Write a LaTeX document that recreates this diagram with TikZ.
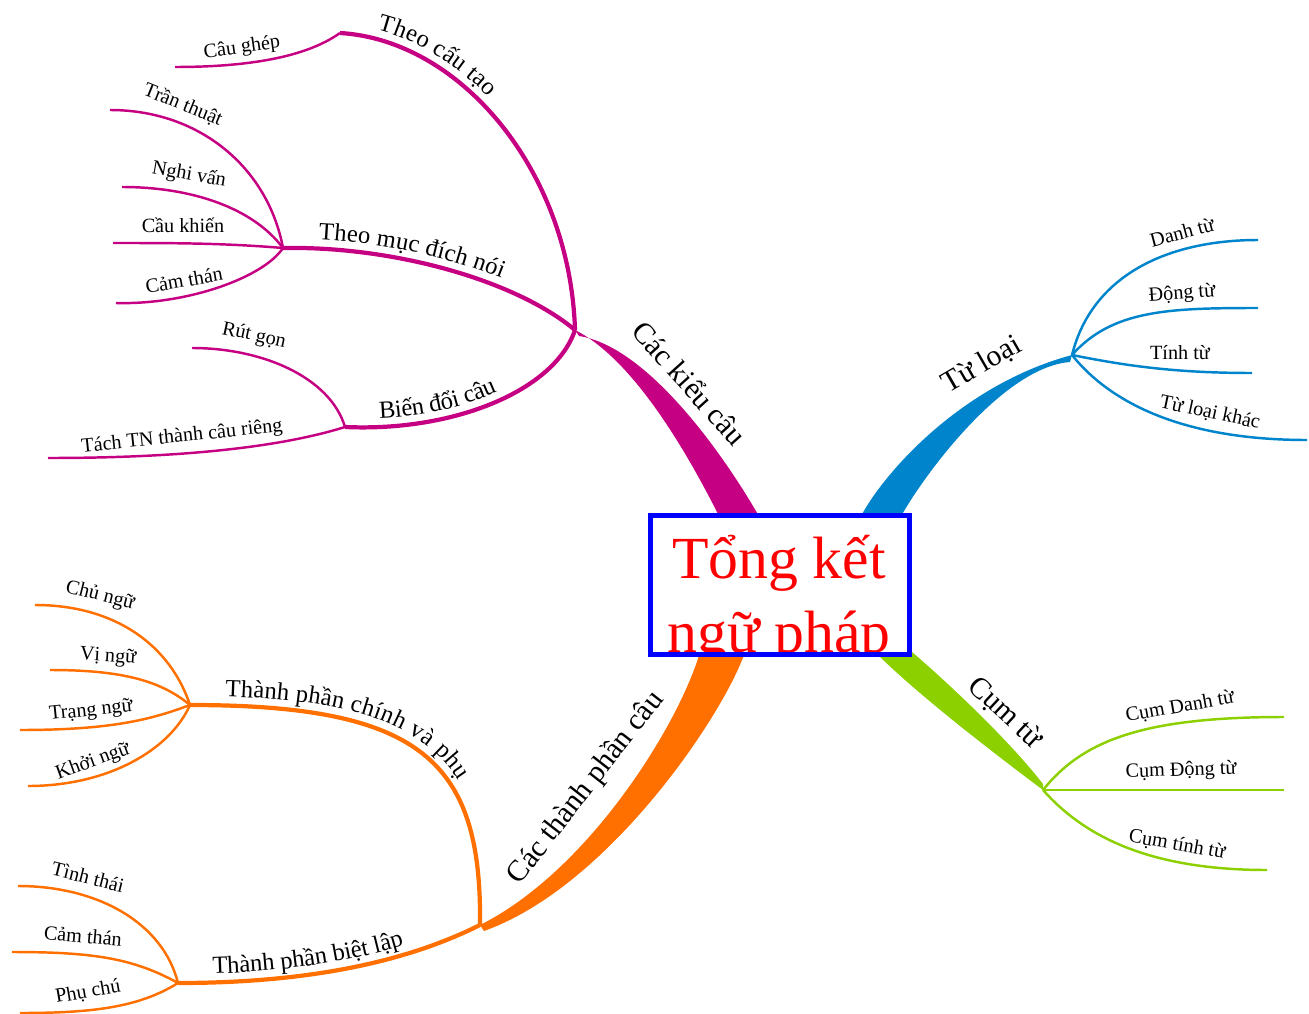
\documentclass[tikz,border=0pt]{standalone}
\usepackage{fontspec}
\setmainfont{Liberation Serif}
\usetikzlibrary{decorations.text}
\newcommand\brfont{\color{black}\fontsize{14}{16}\selectfont}

\begin{document}
\begin{tikzpicture}[x=0.02cm, y=-0.02cm,
  leaf/.style={font=\fontsize{11.5}{13}\selectfont, inner sep=0pt},
  stemlabel/.style={font=\fontsize{17}{20}\selectfont, inner sep=0pt},
  twig/.style={line width=1.4pt},
  limb/.style={line width=2.4pt},
  limblabel/.style={postaction={decorate, decoration={text along path,
      text={|\brfont|#1}, raise=5pt, text align={left, left indent=20pt}}}}]
\definecolor{kccol}{RGB}{198,0,130}
\definecolor{tlcol}{RGB}{0,132,204}
\definecolor{cmcol}{RGB}{140,208,0}
\definecolor{tpccol}{RGB}{255,112,0}

\useasboundingbox (0,0) rectangle (1309,1014);

% junctions
\coordinate (kc) at (575,330);
\coordinate (tl) at (1072,355);
\coordinate (cm) at (1043,790);
\coordinate (tpc) at (480,925);
\coordinate (cautao) at (340,33);
\coordinate (md) at (283,248);
\coordinate (bd) at (345,427);
\coordinate (cp) at (190,705);
\coordinate (bl) at (178,983);

% stems
\coordinate (kcA) at (720,518);
\coordinate (kcB) at (760,518);
\coordinate (kcT) at (579,336);
\coordinate (tlA) at (860,518);
\coordinate (tlB) at (900,518);
\coordinate (tlT) at (1070,362);
\coordinate (cmA) at (875,652);
\coordinate (cmB) at (912,652);
\coordinate (cmT) at (1043,784);
\coordinate (tpcA) at (700,652);
\coordinate (tpcB) at (745,652);
\coordinate (tpcT) at (484,931);
\fill[kccol] (kcA) .. controls +(-30,-60) and +(60,30) .. (kc) -- (kcT) .. controls +(66,10) and +(-40,-70) .. (kcB) -- cycle;
\fill[tlcol] (tlA) .. controls +(22,-43) and +(-112,30) .. (tl) -- (tlT) .. controls +(-66,5) and +(25,-45) .. (tlB) -- cycle;
\fill[cmcol] (cmA) .. controls +(40,40) and +(-60,-45) .. (cm) -- (cmT) .. controls +(-35,-45) and +(35,30) .. (cmB) -- cycle;
\fill[tpccol] (tpcA) .. controls +(-20,70) and +(110,-55) .. (tpc) -- (tpcT) .. controls +(126,-45) and +(-20,60) .. (tpcB) -- cycle;

\node[stemlabel, rotate=-48] (lkc) at (690,383) {Các kiểu câu};
\node[stemlabel, rotate=30] (ltl) at (982,365) {Từ loại};
\node[stemlabel, rotate=-43] (lcm) at (1005,713) {Cụm từ};
\node[stemlabel, rotate=52] (ltpc) at (586,788) {Các thành phần câu};

% Cac kieu cau
\draw[kccol, limb, limblabel={Theo cấu tạo}] (cautao) .. controls +(120,7) and +(-5,-160) .. (kc);
\draw[kccol, limb, limblabel={Theo mục đích nói}] (md) .. controls +(110,-2) and +(-60,-50) .. (kc);
\draw[kccol, limb, limblabel={Biến đổi câu}] (bd) .. controls +(110,5) and +(-20,60) .. (kc);

\coordinate (caughep) at (175,67);
\coordinate (tranthuat) at (110,110);
\coordinate (nghivan) at (122,187);
\coordinate (caukhien) at (113,243);
\coordinate (camthan) at (116,303);
\coordinate (rutgon) at (192,348);
\coordinate (tachtn) at (48,458);
\draw[kccol, twig] (cautao) .. controls +(-35,25) and +(70,0) .. (caughep);
\draw[kccol, twig] (md) .. controls +(-15,-80) and +(90,0) .. (tranthuat);
\draw[kccol, twig] (md) .. controls +(-30,-40) and +(70,0) .. (nghivan);
\draw[kccol, twig] (md) .. controls +(-60,-5) and +(60,0) .. (caukhien);
\draw[kccol, twig] (md) .. controls +(-20,30) and +(70,2) .. (camthan);
\draw[kccol, twig] (bd) .. controls +(-15,-50) and +(70,0) .. (rutgon);
\draw[kccol, twig] (bd) .. controls +(-80,25) and +(100,0) .. (tachtn);
\node[leaf, rotate=8] (lcaughep) at (242,48) {Câu ghép};
\node[leaf, rotate=-22] (ltranthuat) at (183,105) {Trần thuật};
\node[leaf, rotate=-10] (lnghivan) at (189,175) {Nghi vấn};
\node[leaf] (lcaukhien) at (183,225) {Cầu khiến};
\node[leaf, rotate=10] (lcamthan) at (184,280) {Cảm thán};
\node[leaf, rotate=-12] (lrutgon) at (254,336) {Rút gọn};
\node[leaf, rotate=6] (ltachtn) at (182,437) {Tách TN thành câu riêng};

% Tu loai
\coordinate (danhtu) at (1258,240);
\coordinate (dongtu) at (1258,308);
\coordinate (tinhtu) at (1252,373);
\coordinate (loaikhac) at (1307,440);
\draw[tlcol, twig] (tl) .. controls +(20,-80) and +(-90,0) .. (danhtu);
\draw[tlcol, twig] (tl) .. controls +(40,-45) and +(-90,0) .. (dongtu);
\draw[tlcol, twig] (tl) .. controls +(50,10) and +(-80,0) .. (tinhtu);
\draw[tlcol, twig] (tl) .. controls +(40,50) and +(-120,0) .. (loaikhac);
\node[leaf, rotate=15] (ldanhtu) at (1182,232) {Danh từ};
\node[leaf, rotate=4] (ldongtu) at (1182,294) {Động từ};
\node[leaf] (ltinhtu) at (1180,353) {Tính từ};
\node[leaf, rotate=-12] (lloaikhac) at (1210,413) {Từ loại khác};

% Cum tu
\coordinate (cumdanh) at (1284,717);
\coordinate (cumdong) at (1284,790);
\coordinate (cumtinh) at (1267,870);
\draw[cmcol, twig] (cm) .. controls +(40,-50) and +(-140,0) .. (cumdanh);
\draw[cmcol, twig] (cm) .. controls +(60,0) and +(-60,0) .. (cumdong);
\draw[cmcol, twig] (cm) .. controls +(40,45) and +(-120,0) .. (cumtinh);
\node[leaf, rotate=10] (lcumdanh) at (1180,707) {Cụm Danh từ};
\node[leaf, rotate=2] (lcumdong) at (1181,771) {Cụm Động từ};
\node[leaf, rotate=-10] (lcumtinh) at (1177,845) {Cụm tính từ};

% Cac thanh phan cau
\draw[tpccol, limb, limblabel={Thành phần chính và phụ}] (cp) .. controls +(230,0) and +(2,-165) .. (tpc);
\draw[tpccol, limb, limblabel={Thành phần biệt lập}] (bl) .. controls +(150,0) and +(-60,30) .. (tpc);

\coordinate (chungu) at (35,605);
\coordinate (vingu) at (50,670);
\coordinate (trangngu) at (20,730);
\coordinate (khoingu) at (28,786);
\coordinate (tinhthai) at (18,886);
\coordinate (camthanb) at (12,952);
\coordinate (phuchu) at (20,1013);
\draw[tpccol, twig] (cp) .. controls +(-20,-60) and +(80,0) .. (chungu);
\draw[tpccol, twig] (cp) .. controls +(-30,-25) and +(70,0) .. (vingu);
\draw[tpccol, twig] (cp) .. controls +(-40,15) and +(90,0) .. (trangngu);
\draw[tpccol, twig] (cp) .. controls +(-20,45) and +(80,0) .. (khoingu);
\draw[tpccol, twig] (bl) .. controls +(-15,-60) and +(80,0) .. (tinhthai);
\draw[tpccol, twig] (bl) .. controls +(-45,-25) and +(80,0) .. (camthanb);
\draw[tpccol, twig] (bl) .. controls +(-40,25) and +(70,0) .. (phuchu);
\node[leaf, rotate=-14] (lchungu) at (100,596) {Chủ ngữ};
\node[leaf, rotate=-4] (lvingu) at (108,657) {Vị ngữ};
\node[leaf, rotate=6] (ltrangngu) at (91,711) {Trạng ngữ};
\node[leaf, rotate=20] (lkhoingu) at (93,762) {Khởi ngữ};
\node[leaf, rotate=-14] (ltinhthai) at (88,877) {Tình thái};
\node[leaf, rotate=-5] (lcamthanb) at (83,936) {Cảm thán};
\node[leaf, rotate=10] (lphuchu) at (88,992) {Phụ chú};

% centre
\node[fill=white, minimum width=5.18cm, minimum height=2.78cm, inner sep=0pt, outer sep=0pt] (box) at (780,585) {};
\begin{scope}
\clip (box.south west) rectangle (box.north east);
\node[text=red, font=\fontsize{34}{38.5}\selectfont, align=center] (title) at (779,600) {Tổng kết\\[3.4pt]ngữ pháp};
\end{scope}
\draw[blue, line width=2.8pt] (box.south west) rectangle (box.north east);
\end{tikzpicture}
\end{document}
